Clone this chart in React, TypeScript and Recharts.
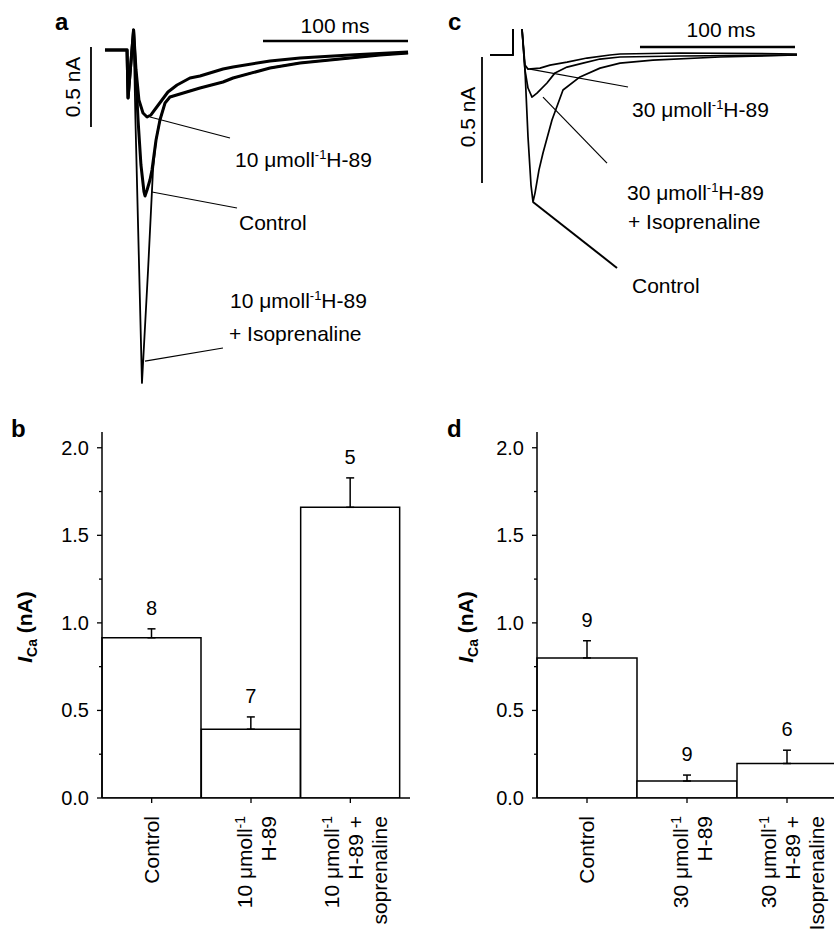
import React from "react";
import {
  LineChart,
  Line,
  XAxis,
  YAxis,
  ReferenceLine,
  BarChart,
  Bar,
  ErrorBar,
  LabelList,
} from "recharts";

const FONT = "Arial, 'Liberation Sans', Helvetica, sans-serif";

type P = [number, number | null];

// ---------------- Panel a: I_Ca traces (time in ms, current in nA) ----------------
const aOnset: P[] = [[0, 0], [15.2, 0], [15.9, -0.3], [19.7, 0.125]];
const aH89: P[] = [
  [21.4, -0.125], [23.4, -0.3125], [26.2, -0.394], [29.0, -0.419], [31.7, -0.406],
  [35.2, -0.3625], [39.3, -0.3125], [43.4, -0.2625], [49.7, -0.219], [58.6, -0.175],
  [65.5, -0.1625], [81.4, -0.119], [88.3, -0.106], [113.8, -0.069], [134.5, -0.05],
  [169.0, -0.031], [209.0, -0.013],
];
const aControl: P[] = [
  [21.4, -0.1875], [22.8, -0.4375], [24.8, -0.719], [26.9, -0.8875], [27.6, -0.9125],
  [29.0, -0.875], [31.0, -0.8125], [32.4, -0.75], [35.2, -0.5625], [37.9, -0.4375],
  [41.4, -0.331], [44.8, -0.294], [51.7, -0.275], [58.6, -0.256], [65.5, -0.2375],
  [81.4, -0.2], [88.3, -0.175], [113.8, -0.1125], [134.5, -0.081], [169.0, -0.05],
  [189.7, -0.031], [209.0, -0.019],
];
const aIso: P[] = [
  [21.0, -0.4375], [25.5, -2.081], [29.7, -1.375], [33.1, -0.75], [35.2, -0.5625],
  [37.9, -0.4375], [41.4, -0.331], [44.8, -0.294], [51.7, -0.275], [58.6, -0.256],
  [65.5, -0.2375], [81.4, -0.2], [88.3, -0.175], [113.8, -0.1125], [134.5, -0.081],
  [169.0, -0.05], [189.7, -0.031], [209.0, -0.019],
];
const aTimeBar: P[] = [[108.97, 0.056], [208.97, 0.056]];
const aCurrentBar: P[] = [[-9.66, 0.019], [-9.66, -0.481]];
const aLeaders: P[][] = [
  [[31.03, -0.419], [86.2, -0.55]],
  [[32.41, -0.8875], [91.03, -0.9875]],
  [[27.59, -1.944], [81.38, -1.8625]],
];

// ---------------- Panel c: I_Ca traces ----------------
const cOnset: P[] = [[0, 0], [14.84, 0], [14.84, 0.103], [17, null], [20.65, 0.103]];
const cH89: P[] = [
  [22.58, -0.04], [24.52, -0.056], [32.26, -0.052], [38.71, -0.04], [49.68, -0.028],
  [62.58, -0.012], [77.42, 0], [83.87, 0.004], [122.58, 0.008], [198.06, 0.004],
];
const cIso: P[] = [
  [22.58, -0.06], [24.52, -0.131], [27.1, -0.167], [30.32, -0.151], [36.77, -0.111],
  [41.94, -0.071], [49.68, -0.048], [60.0, -0.032], [70.97, -0.016], [83.87, -0.008],
  [122.58, -0.004], [198.06, 0],
];
const cControl: P[] = [
  [22.58, -0.06], [24.52, -0.325], [26.45, -0.516], [27.74, -0.583], [29.03, -0.548],
  [31.61, -0.456], [34.19, -0.389], [40.0, -0.258], [47.1, -0.139], [58.06, -0.087],
  [70.97, -0.052], [83.87, -0.032], [105.16, -0.02], [148.39, -0.008], [198.06, 0],
];
const cTimeBar: P[] = [[96.77, 0.032], [196.77, 0.032]];
const cCurrentBar: P[] = [[-5.16, -0.008], [-5.16, -0.508]];
const cLeaders: P[][] = [
  [[25.81, -0.056], [89.03, -0.127]],
  [[34.19, -0.167], [75.48, -0.429]],
  [[27.74, -0.583], [81.94, -0.845]],
];

// ---------------- Panel b / d: bar charts ----------------
const bCategories = ["Control", "10 H-89", "10 H-89 + Iso"];
const bMeans = [0.915, 0.393, 1.66];
const bSem = [0.051, 0.07, 0.168];
const bN = [8, 7, 5];
const bTickLabels = [["Control"], ["10 μmoll^-1", "H-89"], ["10 μmoll^-1", "H-89 +", "soprenaline"]];

const dCategories = ["Control", "30 H-89", "30 H-89 + Iso"];
const dMeans = [0.8, 0.097, 0.197];
const dSem = [0.098, 0.034, 0.076];
const dN = [9, 9, 6];
const dTickLabels = [["Control"], ["30 μmoll^-1", "H-89"], ["30 μmoll^-1", "H-89 +", "Isoprenaline"]];

const yTicks = [0, 0.25, 0.5, 0.75, 1.0, 1.25, 1.5, 1.75, 2.0];

const toRows = (pts: P[]) => pts.map(([t, I]) => ({ t, I }));
const seg = (pts: P[]) => pts.map(([x, y]) => ({ x, y: y as number }));

function Rich({ s, sup = 13, rise = 8 }: { s: string; sup?: number; rise?: number }) {
  const parts = s.split("^");
  return (
    <>
      {parts.map((p, i) =>
        i % 2 === 1 ? (
          <tspan key={i} fontSize={sup} dy={-rise}>{p}</tspan>
        ) : (
          <tspan key={i} dy={i === 0 ? 0 : rise}>{p}</tspan>
        )
      )}
    </>
  );
}

type Trace = { name: string; pts: P[]; w: number };

function TracePanel(props: {
  left: number; top: number; width: number; height: number;
  tDomain: [number, number]; iDomain: [number, number];
  traces: Trace[]; timeBar: P[]; currentBar: P[]; leaders: P[][]; leaderWidths: number[];
}) {
  const { left, top, width, height, tDomain, iDomain, traces, timeBar, currentBar, leaders, leaderWidths } = props;
  return (
    <div style={{ position: "absolute", left, top }}>
      <LineChart width={width} height={height} margin={{ top: 0, right: 0, bottom: 0, left: 0 }}>
        <XAxis type="number" dataKey="t" domain={tDomain} hide allowDataOverflow />
        <YAxis type="number" dataKey="I" domain={iDomain} hide allowDataOverflow />
        {traces.map((tr) => (
          <Line
            key={tr.name}
            name={tr.name}
            data={toRows(tr.pts)}
            dataKey="I"
            type="linear"
            stroke="#000"
            strokeWidth={tr.w}
            dot={false}
            activeDot={false}
            isAnimationActive={false}
            strokeLinejoin="round"
          />
        ))}
        <ReferenceLine segment={seg(timeBar)} stroke="#000" strokeWidth={2.6} />
        <ReferenceLine segment={seg(currentBar)} stroke="#000" strokeWidth={1.8} />
        {leaders.map((l, i) => (
          <ReferenceLine key={i} segment={seg(l)} stroke="#000" strokeWidth={leaderWidths[i]} />
        ))}
      </LineChart>
    </div>
  );
}

function BarPanel(props: {
  left: number; top: number; width: number; yAxisWidth: number; marginRight: number;
  categories: string[]; means: number[]; sem: number[]; n: number[]; tickLabels: string[][];
  yLabelDx: number;
}) {
  const { left, top, width, yAxisWidth, marginRight, categories, means, sem, n, tickLabels, yLabelDx } = props;
  const rows = categories.map((c, i) => ({ cat: c, mean: means[i], err: [0, sem[i]], n: n[i] }));

  const renderYTick = (p: any) => {
    const { x, y, payload } = p;
    const v = payload.value as number;
    const major = Math.abs(v * 2 - Math.round(v * 2)) < 1e-6;
    return (
      <g>
        <line x1={x} x2={x - (major ? 5 : 3)} y1={y} y2={y} stroke="#000" strokeWidth={1.3} />
        {major && (
          <text x={x - 13} y={y} dy={7} textAnchor="end" fontSize={20} fontFamily={FONT} fill="#000">
            {v.toFixed(1)}
          </text>
        )}
      </g>
    );
  };

  const renderXTick = (p: any) => {
    const { x, y, payload } = p;
    const idx = categories.indexOf(payload.value);
    const lines = tickLabels[idx] || [];
    const k = lines.length;
    return (
      <g>
        <line x1={x} x2={x} y1={y} y2={y + 5} stroke="#000" strokeWidth={1.3} />
        {lines.map((ln, i) => {
          const cx = x + (k > 1 ? 6 : 0) + (i - (k - 1) / 2) * 24 + 7;
          const cy = y + 18;
          return (
            <text
              key={i}
              x={cx}
              y={cy}
              transform={`rotate(-90 ${cx} ${cy})`}
              textAnchor="end"
              fontSize={21}
              fontFamily={FONT}
              fill="#000"
            >
              <Rich s={ln} sup={14} rise={7} />
            </text>
          );
        })}
      </g>
    );
  };

  const renderN = (p: any) => {
    const vb = p.viewBox || p;
    const x = (vb.x ?? p.x) as number;
    const y = (vb.y ?? p.y) as number;
    const w = (vb.width ?? p.width) as number;
    const h = (vb.height ?? p.height) as number;
    const r = rows[p.index];
    if (!r) return null;
    const ppu = h / r.mean;
    const topY = y - r.err[1] * ppu;
    return (
      <text x={x + w / 2} y={topY - 14} textAnchor="middle" fontSize={20} fontFamily={FONT} fill="#000">
        {r.n}
      </text>
    );
  };

  const renderYLabel = (p: any) => {
    const vb = p.viewBox;
    const ax = vb.x + vb.width;
    const cx = ax - yLabelDx;
    const cy = vb.y + vb.height / 2 + 12;
    return (
      <text
        x={cx}
        y={cy}
        transform={`rotate(-90 ${cx} ${cy})`}
        textAnchor="middle"
        fontSize={21}
        fontWeight="bold"
        fontFamily={FONT}
        fill="#000"
      >
        <tspan fontStyle="italic">I</tspan>
        <tspan fontSize={14} dy={5}>Ca</tspan>
        <tspan dy={-5}> (nA)</tspan>
      </text>
    );
  };

  return (
    <div style={{ position: "absolute", left, top }}>
      <BarChart
        width={width}
        height={511}
        data={rows}
        margin={{ top: 12, right: marginRight, bottom: 0, left: 0 }}
        barCategoryGap={0}
        barGap={0}
      >
        <XAxis
          dataKey="cat"
          type="category"
          height={133}
          padding={{ left: 0, right: 10 }}
          tickSize={0}
          tickMargin={0}
          tickLine={false}
          interval={0}
          axisLine={{ stroke: "#000", strokeWidth: 1.5 }}
          tick={renderXTick}
        />
        <YAxis
          type="number"
          domain={[0, 2.09]}
          allowDataOverflow
          width={yAxisWidth}
          ticks={yTicks}
          interval={0}
          tickSize={0}
          tickMargin={0}
          tickLine={false}
          axisLine={{ stroke: "#000", strokeWidth: 1.5 }}
          tick={renderYTick}
          label={{ content: renderYLabel }}
        />
        <Bar dataKey="mean" fill="#fff" stroke="#000" strokeWidth={1.5} isAnimationActive={false}>
          <ErrorBar dataKey="err" width={4} stroke="#000" strokeWidth={1.5} direction="y" />
          <LabelList dataKey="n" content={renderN} />
        </Bar>
      </BarChart>
    </div>
  );
}

const txt = { fontSize: 21, fontFamily: FONT, fill: "#000" } as const;
const letter = { fontSize: 24, fontFamily: FONT, fontWeight: "bold" as const, fill: "#000" };

export default function App() {
  return (
    <div
      style={{
        position: "absolute",
        left: 0,
        top: 0,
        width: 834,
        height: 931,
        overflow: "hidden",
        background: "#fff",
      }}
    >
      <TracePanel
        left={0}
        top={0}
        width={420}
        height={420}
        tDomain={[-72.41, 217.24]}
        iDomain={[-2.3125, 0.3125]}
        traces={[
          { name: "Isoprenaline", pts: [...aOnset, ...aIso], w: 1.8 },
          { name: "Control", pts: [...aOnset, ...aControl], w: 3 },
          { name: "H-89", pts: [...aOnset, ...aH89], w: 3 },
        ]}
        timeBar={aTimeBar}
        currentBar={aCurrentBar}
        leaders={aLeaders}
        leaderWidths={[1.2, 1.2, 1.2]}
      />
      <TracePanel
        left={420}
        top={0}
        width={414}
        height={320}
        tDomain={[-45.16, 221.94]}
        iDomain={[-1.0516, 0.2183]}
        traces={[
          { name: "Control", pts: [...cOnset, ...cControl], w: 1.7 },
          { name: "Isoprenaline", pts: [...cOnset, ...cIso], w: 1.7 },
          { name: "H-89", pts: [...cOnset, ...cH89], w: 1.7 },
        ]}
        timeBar={cTimeBar}
        currentBar={cCurrentBar}
        leaders={cLeaders}
        leaderWidths={[1.2, 1.2, 2]}
      />
      <BarPanel
        left={0}
        top={420}
        width={420}
        yAxisWidth={102}
        marginRight={10}
        categories={bCategories}
        means={bMeans}
        sem={bSem}
        n={bN}
        tickLabels={bTickLabels}
        yLabelDx={70}
      />
      <BarPanel
        left={420}
        top={420}
        width={430}
        yAxisWidth={117}
        marginRight={3}
        categories={dCategories}
        means={dMeans}
        sem={dSem}
        n={dN}
        tickLabels={dTickLabels}
        yLabelDx={64}
      />
      <svg
        width={834}
        height={931}
        style={{ position: "absolute", left: 0, top: 0, pointerEvents: "none" }}
      >
        <text x={55} y={30} {...letter}>a</text>
        <text x={448} y={30} {...letter}>c</text>
        <text x={11} y={437} {...letter}>b</text>
        <text x={447} y={437} {...letter}>d</text>

        <text x={335} y={33} textAnchor="middle" {...txt}>100 ms</text>
        <text x={80} y={87} textAnchor="middle" transform="rotate(-90 80 87)" {...txt}>0.5 nA</text>
        <text x={235} y={167} {...txt}><Rich s="10 μmoll^-1^H-89" /></text>
        <text x={239} y={230} {...txt}>Control</text>
        <text x={230} y={308} {...txt}><Rich s="10 μmoll^-1^H-89" /></text>
        <text x={229} y={341} {...txt}>+ Isoprenaline</text>

        <text x={721} y={37} textAnchor="middle" {...txt}>100 ms</text>
        <text x={475} y={117} textAnchor="middle" transform="rotate(-90 475 117)" {...txt}>0.5 nA</text>
        <text x={632} y={117} {...txt}><Rich s="30 μmoll^-1^H-89" /></text>
        <text x={627} y={200} {...txt}><Rich s="30 μmoll^-1^H-89" /></text>
        <text x={628} y={229} {...txt}>+ Isoprenaline</text>
        <text x={632} y={293} {...txt}>Control</text>
      </svg>
    </div>
  );
}
